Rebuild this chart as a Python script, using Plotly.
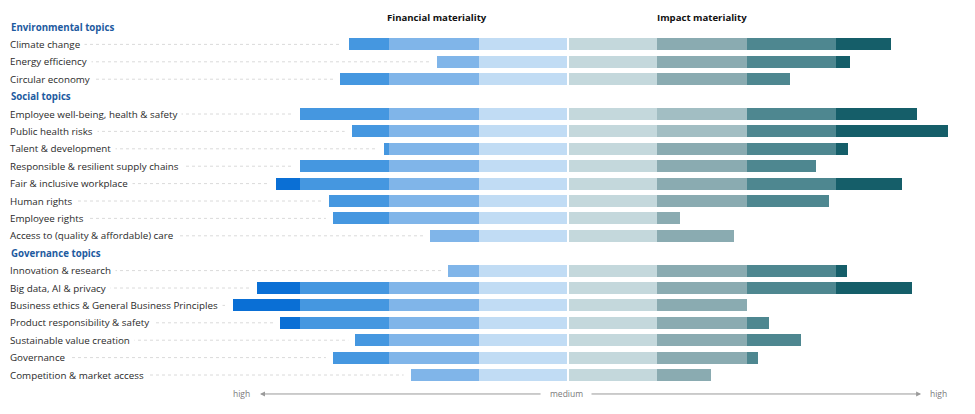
import plotly.graph_objects as go

# ---------------- data ----------------
sections = ["Environmental topics", "Social topics", "Governance topics"]

env_topics = ["Climate change", "Energy efficiency", "Circular economy"]
env_financial = [2.45, 1.47, 2.55]
env_impact = [3.61, 3.15, 2.48]

soc_topics = ["Employee well-being, health & safety", "Public health risks",
              "Talent & development", "Responsible & resilient supply chains",
              "Fair & inclusive workplace", "Human rights", "Employee rights",
              "Access to (quality & affordable) care"]
soc_financial = [3.00, 2.42, 2.06, 3.00, 3.27, 2.67, 2.63, 1.54]
soc_impact = [3.90, 4.25, 3.13, 2.77, 3.74, 2.92, 1.25, 1.86]

gov_topics = ["Innovation & research", "Big data, AI & privacy",
              "Business ethics & General Business Principles",
              "Product responsibility & safety", "Sustainable value creation",
              "Governance", "Competition & market access"]
gov_financial = [1.34, 3.48, 3.75, 3.22, 2.38, 2.63, 1.76]
gov_impact = [3.12, 3.85, 2.00, 2.25, 2.61, 2.13, 1.60]

axis_labels = ["high", "medium", "high"]
side_titles = ["Financial materiality", "Impact materiality"]

# ---------------- styling ----------------
left_colors = ["#c1dcf4", "#80b5e9", "#4597e0", "#0a6fd5"]
right_colors = ["#c4d8dc", "#8aabb1", "#4e8790", "#155e69"]
highlight_band2 = "#a2bec3"
FONT = "Open Sans"

# ---------------- rows ----------------
rows = []  # (slot, kind, label, fin, imp)
slot = 0
for sec, tps, fin, imp in [(sections[0], env_topics, env_financial, env_impact),
                           (sections[1], soc_topics, soc_financial, soc_impact),
                           (sections[2], gov_topics, gov_financial, gov_impact)]:
    rows.append((slot, "header", sec, None, None))
    slot += 1
    for t, f, i in zip(tps, fin, imp):
        rows.append((slot, "topic", t, f, i))
        slot += 1

topic_rows = [r for r in rows if r[1] == "topic"]
ys = [r[0] for r in topic_rows]


def band(v, k):
    # last band (k == 3) is open-ended
    hi = 1.0 if k < 3 else 10.0
    return max(0.0, min(hi, v - k))


fig = go.Figure()
BW = 0.69
for k in range(4):
    widths = [band(r[3], k) for r in topic_rows]
    fig.add_trace(go.Bar(
        y=ys, x=widths, base=[-(k + w) for w in widths], orientation="h",
        width=BW, marker=dict(color=left_colors[k], line=dict(width=0)),
        hoverinfo="skip", showlegend=False))
for k in range(4):
    widths = [band(r[4], k) for r in topic_rows]
    cols = [right_colors[k]] * len(topic_rows)
    if k == 1:
        for j, r in enumerate(topic_rows):
            if r[2] in ("Employee well-being, health & safety", "Public health risks"):
                cols[j] = highlight_band2
    fig.add_trace(go.Bar(
        y=ys, x=widths, base=[k] * len(widths), orientation="h",
        width=BW, marker=dict(color=cols, line=dict(width=0)),
        hoverinfo="skip", showlegend=False))

shapes = []
annotations = []
PX = 89.4  # pixels per unit
for s, kind, label, f, i in rows:
    if kind == "header":
        annotations.append(dict(x=9 / 975, xref="paper", y=s, yref="y", text="<b>%s</b>" % label,
                                showarrow=False, xanchor="left", yanchor="middle",
                                font=dict(family=FONT, size=9.7, color="#1d5aa0")))
    else:
        shapes.append(dict(type="line", xref="paper", yref="y", x0=12 / 975,
                           x1=(568 - f * PX - 7) / 975, y0=s, y1=s,
                           line=dict(color="#dadada", width=1, dash="dot"), layer="below"))
        annotations.append(dict(x=5 / 975, xref="paper", y=s, yref="y", text=label,
                                showarrow=False, xanchor="left", yanchor="middle",
                                bgcolor="white", borderpad=4,
                                font=dict(family=FONT, size=9.8, color="#2a2a2a")))

# center white gap
shapes.append(dict(type="line", xref="x", yref="y", x0=0, x1=0, y0=-0.5, y1=slot - 0.5,
                   line=dict(color="white", width=2), layer="above"))

# side titles
annotations.append(dict(x=-1.47, y=-0.52, xref="x", yref="y", text="<b>%s</b>" % side_titles[0],
                        showarrow=False, font=dict(family=FONT, size=9.6, color="#111")))
annotations.append(dict(x=1.5, y=-0.52, xref="x", yref="y", text="<b>%s</b>" % side_titles[1],
                        showarrow=False, font=dict(family=FONT, size=9.6, color="#111")))

# bottom scale
ya = 21.09
annotations.append(dict(x=-3.445, y=ya, ax=-0.29, ay=ya, xref="x", yref="y", axref="x", ayref="y",
                        text="", showarrow=True, arrowhead=2, arrowsize=1, arrowwidth=1,
                        arrowcolor="#9a9a9a"))
annotations.append(dict(x=3.95, y=ya, ax=0.246, ay=ya, xref="x", yref="y", axref="x", ayref="y",
                        text="", showarrow=True, arrowhead=2, arrowsize=1, arrowwidth=1,
                        arrowcolor="#9a9a9a"))
for xv, t in zip([-3.65, -0.02, 4.14], axis_labels):
    annotations.append(dict(x=xv, y=ya, xref="x", yref="y", text=t, showarrow=False,
                            font=dict(family=FONT, size=8.5, color="#7a7a7a")))

fig.update_layout(
    width=975, height=414, margin=dict(l=0, r=0, t=0, b=0),
    plot_bgcolor="white", paper_bgcolor="white", barmode="overlay", bargap=0,
    xaxis=dict(range=[-568 / PX, (975 - 568) / PX], visible=False, fixedrange=True),
    yaxis=dict(range=[(414 - 27) / 17.4, -27 / 17.4], visible=False, fixedrange=True),
    shapes=shapes, annotations=annotations, showlegend=False,
)
fig.write_html("out.html", config={"displayModeBar": False},
               post_script="document.body.style.margin='0';document.body.style.overflow='hidden';")
